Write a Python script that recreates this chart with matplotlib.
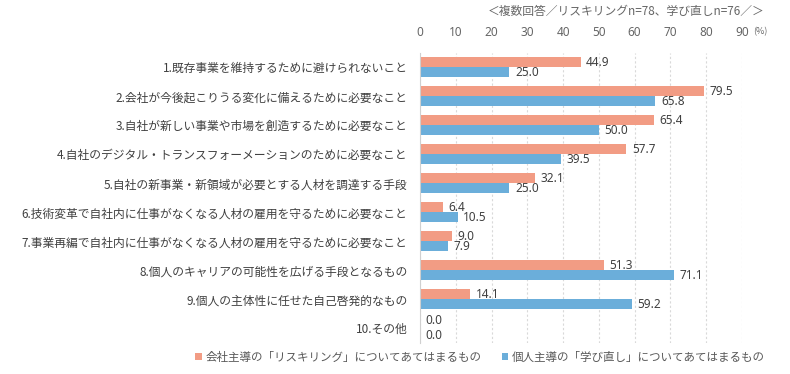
import matplotlib.pyplot as plt
import numpy as np

plt.rcParams['font.family'] = ['Noto Sans CJK JP', 'DejaVu Sans']

# データ
categories = [
    '1.既存事業を維持するために避けられないこと',
    '2.会社が今後起こりうる変化に備えるために必要なこと',
    '3.自社が新しい事業や市場を創造するために必要なこと',
    '4.自社のデジタル・トランスフォーメーションのために必要なこと',
    '5.自社の新事業・新領域が必要とする人材を調達する手段',
    '6.技術変革で自社内に仕事がなくなる人材の雇用を守るために必要なこと',
    '7.事業再編で自社内に仕事がなくなる人材の雇用を守るために必要なこと',
    '8.個人のキャリアの可能性を広げる手段となるもの',
    '9.個人の主体性に任せた自己啓発的なもの',
    '10.その他',
]
reskilling = [44.9, 79.5, 65.4, 57.7, 32.1, 6.4, 9.0, 51.3, 14.1, 0.0]
relearning = [25.0, 65.8, 50.0, 39.5, 25.0, 10.5, 7.9, 71.1, 59.2, 0.0]
series_names = ['会社主導の「リスキリング」についてあてはまるもの',
                '個人主導の「学び直し」についてあてはまるもの']
x_ticks = [0, 10, 20, 30, 40, 50, 60, 70, 80, 90]
title = '＜複数回答／リスキリングn=78、学び直しn=76／＞'

c_salmon = '#F29C84'
c_blue = '#6BAEDA'
c_text = '#404040'

fig = plt.figure(figsize=(7.9, 3.74), dpi=100)
ax = fig.add_axes([0.5316, 0.084, 0.4076, 0.775])

y = np.arange(len(categories))
h = 0.35
b1 = ax.barh(y - h / 2, reskilling, h, color=c_salmon, label=series_names[0])
b2 = ax.barh(y + h / 2, relearning, h, color=c_blue, label=series_names[1])

# 値ラベル（0の場合は少し上下に離す）
for bars, dy in ((b1, 2), (b2, -2)):
    for bar in bars:
        w = bar.get_width()
        ax.annotate(f'{w:.1f}', xy=(w, bar.get_y() + bar.get_height() / 2),
                    xytext=(4, dy if w == 0 else 0), textcoords='offset points',
                    ha='left', va='center', fontsize=8.5, color=c_text,
                    family=['Noto Sans', 'DejaVu Sans'])

ax.set_xlim(0, 90)
ax.set_ylim(len(categories) - 0.5, -0.5)
ax.xaxis.tick_top()
ax.set_xticks(x_ticks)
ax.set_xticklabels([str(t) for t in x_ticks], fontsize=8.5, color='#666666',
                   family=['Noto Sans', 'DejaVu Sans'])
ax.tick_params(axis='x', length=0, pad=10)
ax.set_yticks(y)
ax.set_yticklabels(categories, fontsize=8.5, color=c_text)
ax.tick_params(axis='y', length=0, pad=9)

ax.grid(axis='x', color='#D9D9D9', linestyle=(0, (2, 2)), linewidth=0.8)
ax.set_axisbelow(True)
for s in ['top', 'right', 'bottom']:
    ax.spines[s].set_visible(False)
ax.spines['left'].set_color('#D0D0D0')

fig.text(760 / 790, 1 - 32 / 374, '(%)', fontsize=6.5, color='#666666',
         ha='center', va='center')
fig.text(765 / 790, 1 - 11 / 374, title, fontsize=8.5, color='#666666',
         ha='right', va='center')

leg = fig.legend(handles=[b1, b2], loc='center', bbox_to_anchor=(480 / 790, 1 - 357 / 374),
                 ncol=2, frameon=False, fontsize=8.3, handlelength=0.55, handleheight=0.55,
                 handletextpad=0.3, columnspacing=1.8)
for t in leg.get_texts():
    t.set_color('#595959')

plt.savefig('out.png', dpi=100)
